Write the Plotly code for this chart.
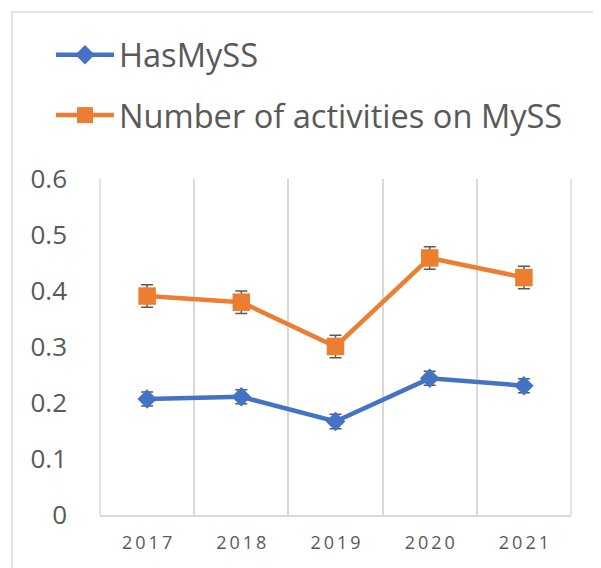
import plotly.graph_objects as go

years = ["2017", "2018", "2019", "2020", "2021"]
has_myss = [0.207, 0.211, 0.167, 0.244, 0.231]
has_myss_err = [0.0125, 0.0125, 0.013, 0.0125, 0.0125]
activities = [0.391, 0.380, 0.301, 0.459, 0.424]
activities_err = [0.02, 0.02, 0.02, 0.02, 0.02]
series_names = ["HasMySS", "Number of activities on MySS"]
y_ticks = [0, 0.1, 0.2, 0.3, 0.4, 0.5, 0.6]
y_tick_labels = ["0", "0.1", "0.2", "0.3", "0.4", "0.5", "0.6"]

TEXT = "#595959"
GRID = "#d9d9d9"

fig = go.Figure()
fig.add_trace(go.Scatter(
    x=years, y=has_myss, name=series_names[0], mode="lines+markers",
    legendgroup="a",
    line=dict(color="#4472C4", width=4.5),
    marker=dict(symbol="diamond", size=15, color="#4472C4"),
    error_y=dict(type="data", array=has_myss_err, color=TEXT, thickness=1.5, width=6),
))
fig.add_trace(go.Scatter(
    x=years, y=activities, name=series_names[1], mode="lines+markers",
    legendgroup="b",
    line=dict(color="#ED7D31", width=4.5),
    marker=dict(symbol="square", size=17.5, color="#ED7D31"),
    error_y=dict(type="data", array=activities_err, color=TEXT, thickness=1.5, width=6),
))

W, H = 593, 560
edge = dict(type="line", xref="paper", yref="paper", y0=0, y1=1,
            line=dict(color=GRID, width=1.5), layer="below")
fig.update_layout(
    width=W, height=H,
    margin=dict(l=92, r=30, t=171, b=53, autoexpand=False),
    paper_bgcolor="white", plot_bgcolor="white",
    font=dict(family="Open Sans", color=TEXT),
    showlegend=True,
    legend=dict(
        xref="container", yref="container",
        x=0.0725, y=0.966, xanchor="left", yanchor="top",
        font=dict(size=32.6, color=TEXT, family="Open Sans"),
        itemwidth=58, tracegroupgap=15, traceorder="grouped",
        bgcolor="rgba(0,0,0,0)",
    ),
    xaxis=dict(
        type="category", range=[-0.5, 4.5],
        tickmode="array", tickvals=years,
        ticktext=["\u2009".join(list(y)) for y in years],
        tickson="boundaries", ticks="",
        showgrid=True, gridcolor=GRID, gridwidth=1.5,
        showline=True, linecolor=GRID, linewidth=1.5,
        tickfont=dict(size=18, color=TEXT),
        ticklabelstandoff=11,
        zeroline=False, automargin=False,
    ),
    yaxis=dict(
        range=[0, 0.6], tickmode="array", tickvals=y_ticks, ticktext=y_tick_labels,
        showgrid=False, zeroline=False, showline=False,
        tickfont=dict(size=26, color=TEXT),
        ticklabelstandoff=32, automargin=False,
    ),
    shapes=[
        dict(type="rect", xref="paper", yref="paper",
             x0=(4 - 92) / 471, x1=(591 - 92) / 471, y0=-0.3, y1=(336 + 171 - 4) / 336,
             line=dict(color=GRID, width=1.5), layer="below"),
        dict(edge, x0=0, x1=0),
        dict(edge, x0=1, x1=1),
    ],
)

fig.write_html("out.html")
